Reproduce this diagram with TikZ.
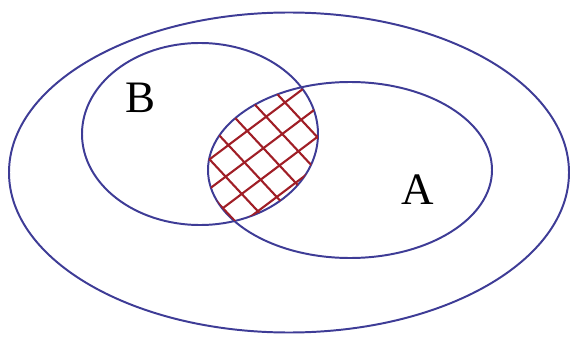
\documentclass[tikz,border=0pt]{standalone}
\usepackage{fontspec}
\setmainfont{Liberation Serif}
\usetikzlibrary{calc}
\definecolor{setline}{RGB}{62,60,150}
\definecolor{hatch}{RGB}{160,30,38}

\begin{document}
\begin{tikzpicture}[x=0.025cm,y=0.025cm]
  \useasboundingbox (0,0) rectangle (570,336);

  % Universe
  \draw[setline,line width=1.4pt] (289,163.5) ellipse [x radius=280, y radius=160];

  % Set B
  \draw[setline,line width=1.4pt] (200,202) ellipse [x radius=118, y radius=91];

  % Set A
  \draw[setline,line width=1.4pt] (350,166) ellipse [x radius=142, y radius=88];

  % Intersection hatch
  \begin{scope}
    \clip (350,166) ellipse [x radius=142, y radius=88];
    \clip (200,202) ellipse [x radius=118, y radius=91];
    \foreach \k in {-4,...,5}
      \draw[hatch,line width=1.5pt] ($(210,177)+(127:\k*23.5)$) ++(37:-200) -- ++(37:400);
    \foreach \k in {-3,...,8}
      \draw[hatch,line width=1.5pt] ($(212,174)+(43:\k*23.5)$) ++(-47:-200) -- ++(-47:400);
  \end{scope}

  % Labels
  \node[inner sep=0pt,font=\fontsize{32}{32}\selectfont] (labelB) at (141,238) {B};
  \node[inner sep=0pt,font=\fontsize{32}{32}\selectfont] (labelA) at (418,146) {A};
\end{tikzpicture}
\end{document}
